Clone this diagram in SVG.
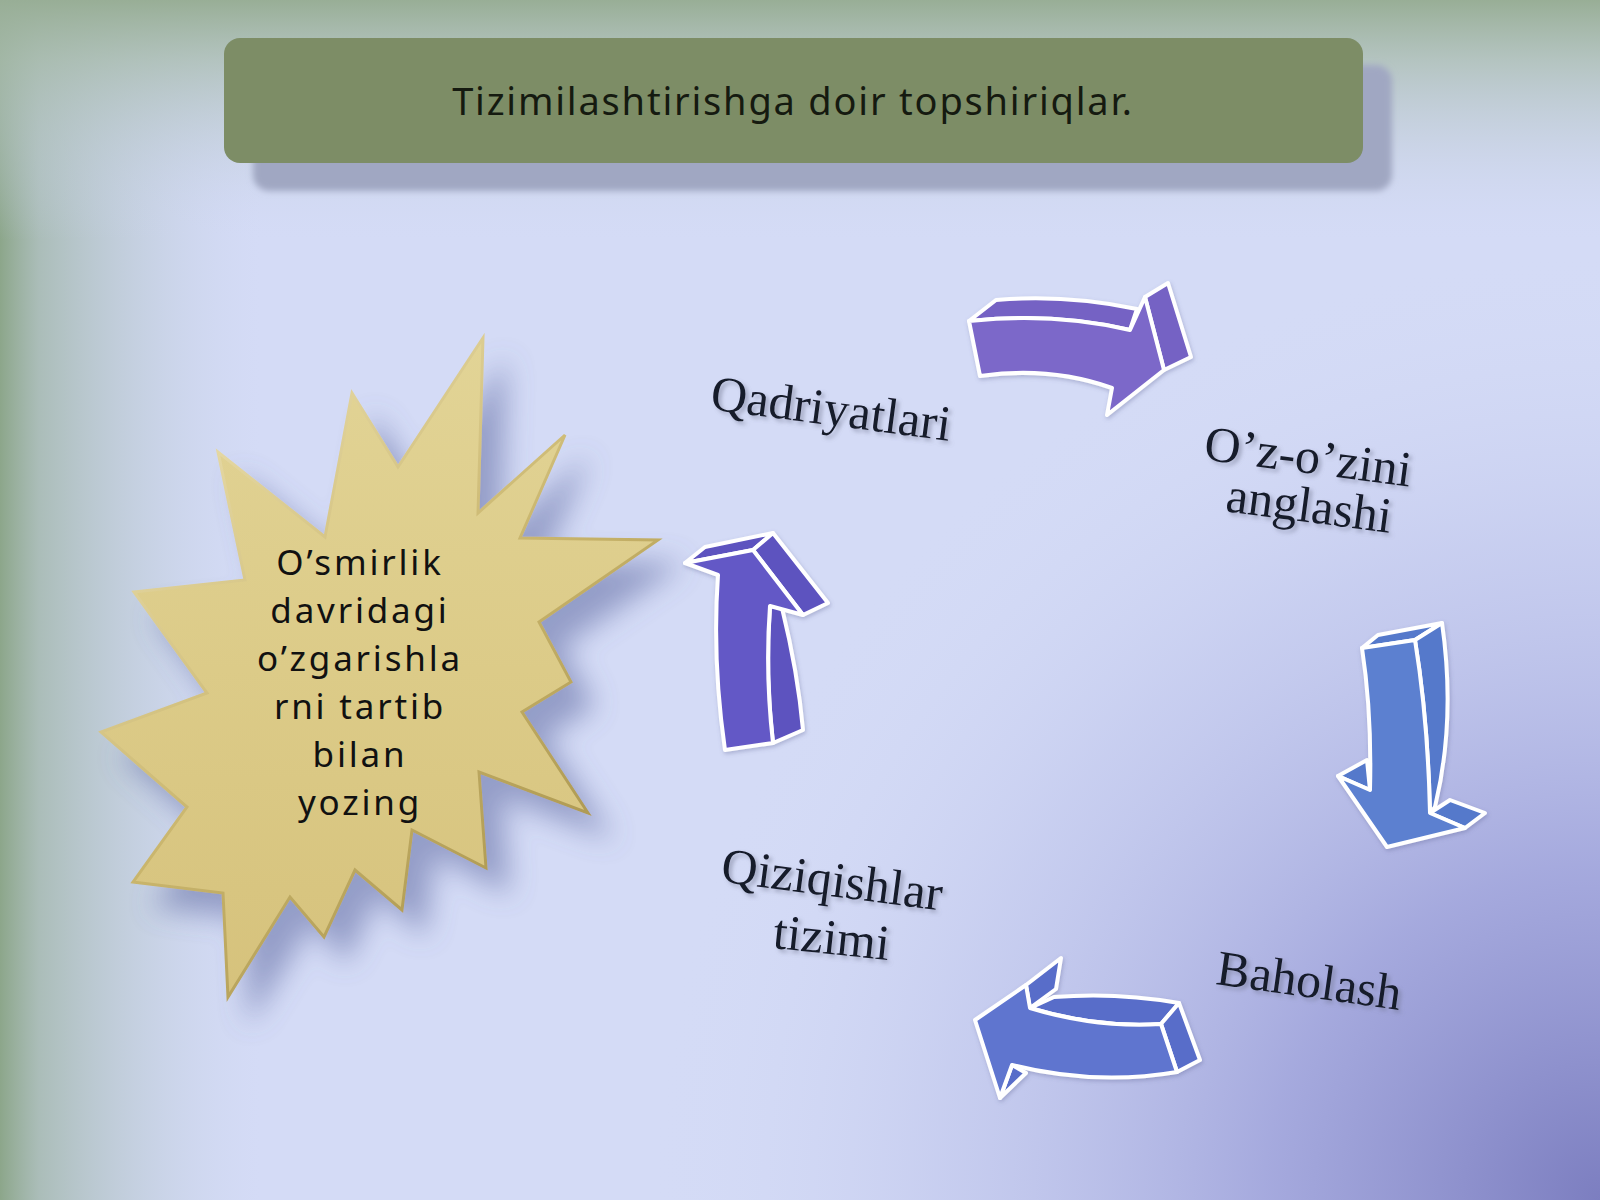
<svg xmlns="http://www.w3.org/2000/svg" width="1600" height="1200" viewBox="0 0 1600 1200">
  <defs>
    <radialGradient id="bgDark" cx="1600" cy="1200" r="950" gradientUnits="userSpaceOnUse">
      <stop offset="0" stop-color="#7c7ec0"/>
      <stop offset="0.35" stop-color="#a0a4db" stop-opacity="0.9"/>
      <stop offset="0.7" stop-color="#bcc2ea" stop-opacity="0.5"/>
      <stop offset="1" stop-color="#d4dbf6" stop-opacity="0"/>
    </radialGradient>
    <linearGradient id="bgLeft" x1="0" y1="0" x2="260" y2="0" gradientUnits="userSpaceOnUse">
      <stop offset="0" stop-color="#8ca68a"/>
      <stop offset="0.15" stop-color="#9db3a4" stop-opacity="0.75"/>
      <stop offset="1" stop-color="#c8d3ea" stop-opacity="0"/>
    </linearGradient>
    <linearGradient id="bgTop" x1="0" y1="0" x2="0" y2="240" gradientUnits="userSpaceOnUse">
      <stop offset="0" stop-color="#98ae96"/>
      <stop offset="0.25" stop-color="#a9bcae" stop-opacity="0.75"/>
      <stop offset="1" stop-color="#d0d8f2" stop-opacity="0"/>
    </linearGradient>
    <linearGradient id="starFill" x1="0" y1="340" x2="0" y2="1000" gradientUnits="userSpaceOnUse">
      <stop offset="0" stop-color="#e2d496"/>
      <stop offset="0.5" stop-color="#dccb88"/>
      <stop offset="1" stop-color="#d6c27c"/>
    </linearGradient>
    <linearGradient id="starEdge" x1="100" y1="340" x2="660" y2="1000" gradientUnits="userSpaceOnUse">
      <stop offset="0" stop-color="#f4ebc2"/>
      <stop offset="0.5" stop-color="#c9b56c"/>
      <stop offset="1" stop-color="#9c8741"/>
    </linearGradient>
    <filter id="starShadow" x="-30%" y="-30%" width="160%" height="160%">
      <feGaussianBlur in="SourceAlpha" stdDeviation="14"/>
      <feOffset dx="22" dy="24" result="b"/>
      <feFlood flood-color="#55609a" flood-opacity="0.5"/>
      <feComposite in2="b" operator="in"/>
      <feMerge><feMergeNode/><feMergeNode in="SourceGraphic"/></feMerge>
    </filter>
    <filter id="boxShadow" x="-10%" y="-30%" width="120%" height="160%">
      <feGaussianBlur stdDeviation="3"/>
    </filter>
    <filter id="txtShadow" x="-10%" y="-30%" width="120%" height="160%">
      <feGaussianBlur in="SourceAlpha" stdDeviation="2"/>
      <feOffset dx="3" dy="3" result="b"/>
      <feFlood flood-color="#6a6f88" flood-opacity="0.5"/>
      <feComposite in2="b" operator="in"/>
      <feMerge><feMergeNode/><feMergeNode in="SourceGraphic"/></feMerge>
    </filter>
    <filter id="arrowGlow" x="-20%" y="-20%" width="140%" height="140%">
      <feGaussianBlur in="SourceAlpha" stdDeviation="2"/>
      <feOffset dx="1" dy="2" result="b"/>
      <feFlood flood-color="#5a5f90" flood-opacity="0.35"/>
      <feComposite in2="b" operator="in"/>
      <feMerge><feMergeNode/><feMergeNode in="SourceGraphic"/></feMerge>
    </filter>
    <style>
      .lbl { font-family: "Liberation Serif", "DejaVu Serif", serif; font-size: 50px; fill: #151a2c; text-anchor: middle; }
      .star { font-family: "Noto Sans", "Open Sans", "DejaVu Sans", sans-serif; font-size: 35px; fill: #111111; text-anchor: middle; letter-spacing: 2.8px; }
      .title { font-family: "Noto Sans", "Open Sans", "DejaVu Sans", sans-serif; font-size: 38px; fill: #151a10; text-anchor: middle; letter-spacing: 1.8px; }
      .aw { stroke: #ffffff; stroke-width: 4; stroke-linejoin: round; }
      .purple { fill: #7b68c9; }
      .purpleS { fill: #7462c4; }
      .blue { fill: #5b80d0; }
      .blueS { fill: #5579cb; }
      .blue2 { fill: #5f74cf; }
      .blue2S { fill: #596dc9; }
      .violet { fill: #6459c6; }
      .violetS { fill: #5d52bf; }
    </style>
  </defs>

  <!-- background -->
  <rect x="0" y="0" width="1600" height="1200" fill="#d4dbf6"/>
  <rect x="0" y="0" width="1600" height="1200" fill="url(#bgDark)"/>
  <rect x="0" y="0" width="1600" height="1200" fill="url(#bgLeft)"/>
  <rect x="0" y="0" width="1600" height="1200" fill="url(#bgTop)"/>

  <!-- title -->
  <g id="title">
    <rect x="253" y="65" width="1139" height="126" rx="16" fill="#a0a7c2" filter="url(#boxShadow)"/>
    <rect x="224" y="38" width="1139" height="125" rx="16" fill="#7d8d66"/>
    <text class="title" x="793" y="115">Tizimilashtirishga doir topshiriqlar.</text>
  </g>

  <!-- star -->
  <g id="star">
    <polygon filter="url(#starShadow)" fill="url(#starFill)" stroke="url(#starEdge)" stroke-width="3" stroke-linejoin="miter"
      points="483,338 478,513 565,435 520,538 658,540 539,622 571,682 522,712 588,813 479,772 486,868 412,830 402,910 355,870 324,937 290,897 228,997 223,893 133,882 187,807 101,732 207,693 134,592 245,580 218,452 325,537 352,393 398,467"/>
    <text class="star" x="360" y="575">O’smirlik</text>
    <text class="star" x="360" y="623">davridagi</text>
    <text class="star" x="360" y="671">o’zgarishla</text>
    <text class="star" x="360" y="719">rni tartib</text>
    <text class="star" x="360" y="767">bilan</text>
    <text class="star" x="360" y="815">yozing</text>
  </g>

  <!-- labels -->
  <g id="n-qadriyatlari" filter="url(#txtShadow)">
    <text class="lbl" transform="translate(829,425) rotate(7.5)">Qadriyatlari</text>
  </g>
  <g id="n-ozozini" filter="url(#txtShadow)">
    <text class="lbl" transform="translate(1306,473) rotate(7.5)">O’z-o’zini</text>
    <text class="lbl" transform="translate(1307,522) rotate(7.5)">anglashi</text>
  </g>
  <g id="n-baholash" filter="url(#txtShadow)">
    <text class="lbl" transform="translate(1307,997) rotate(8)">Baholash</text>
  </g>
  <g id="n-qiziqishlar" filter="url(#txtShadow)">
    <text class="lbl" transform="translate(830,896) rotate(7.5)">Qiziqishlar</text>
    <text class="lbl" transform="translate(830,954) rotate(6)">tizimi</text>
  </g>

  <!-- connectors: 3D curved arrows -->
  <g id="connectors">
    <g id="arrow-top" filter="url(#arrowGlow)">
      <path class="purpleS aw" d="M969,321 L996,300 Q1065,294 1137,309 L1130,330 Q1053,312 969,321 Z"/>
      <path class="purpleS aw" d="M1145,297 L1168,283 L1191,357 L1164,370 Z"/>
      <path class="purple aw" d="M969,321 Q1053,312 1130,330 L1145,297 L1164,370 L1107,415 L1112,388 Q1050,366 980,376 Z"/>
    </g>
    <g id="arrow-right" filter="url(#arrowGlow)">
      <path class="blueS aw" d="M1362,648 L1378,635 L1442,623 L1415,640 Z"/>
      <path class="blueS aw" d="M1415,640 L1442,623 Q1456,720 1435,807 L1430,813 Q1428,720 1415,640 Z"/>
      <path class="blueS aw" d="M1430,813 L1450,800 L1485,813 L1465,828 Z"/>
      <path class="blueS aw" d="M1338,776 L1367,760 L1370,790 Z"/>
      <path class="blue aw" d="M1362,648 L1415,640 Q1428,720 1430,813 L1465,828 L1387,847 L1338,776 L1370,790 Q1372,713 1362,648 Z"/>
    </g>
    <g id="arrow-bottom" filter="url(#arrowGlow)">
      <path class="blue2S aw" d="M1030,1008 L1054,997 Q1117,992 1179,1003 L1161,1024 Q1096,1028 1030,1008 Z"/>
      <path class="blue2S aw" d="M1026,985 L1061,958 L1056,989 L1030,1008 Z"/>
      <path class="blue2S aw" d="M1161,1024 L1179,1003 L1200,1060 L1177,1072 Z"/>
      <path class="blue2S aw" d="M1012,1065 L1026,1073 L1000,1098 Z"/>
      <path class="blue2 aw" d="M975,1020 L1026,985 L1030,1008 Q1096,1028 1161,1024 L1177,1072 Q1096,1086 1012,1065 L1000,1098 Z"/>
    </g>
    <g id="arrow-left" filter="url(#arrowGlow)">
      <path class="violetS aw" d="M685,563 L705,547 L773,533 L753,550 Z"/>
      <path class="violetS aw" d="M753,550 L773,533 L828,603 L803,615 Z"/>
      <path class="violetS aw" d="M770,606 L782,608 Q798,673 803,730 L773,743 Q765,673 770,606 Z"/>
      <path class="violet aw" d="M725,750 Q712,660 718,575 L685,563 L753,550 L803,615 L770,606 Q765,673 773,743 Z"/>
    </g>
  </g>
</svg>
